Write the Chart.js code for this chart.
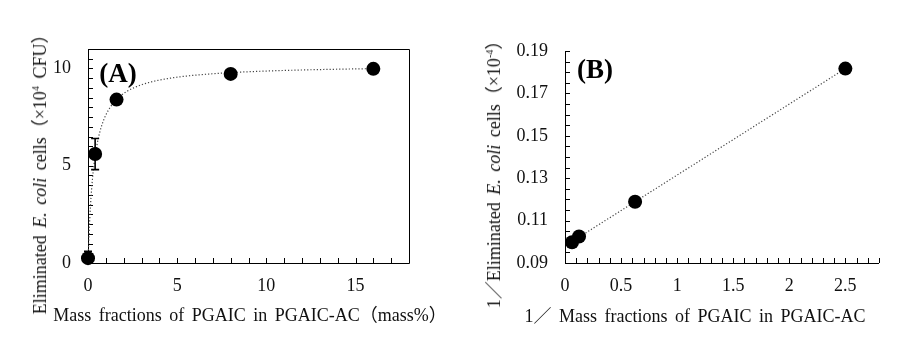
<!DOCTYPE html>
<html>
<head>
<meta charset="utf-8">
<script src="https://cdn.jsdelivr.net/npm/chart.js@4.4.1/dist/chart.umd.min.js"></script>
<style>
body{margin:0;background:#fff;}
#wrap{position:relative;width:905px;height:356px;background:#fff;font-family:"Liberation Serif","Noto Sans CJK JP",serif;color:#111;}
canvas{position:absolute;top:0;}
.t{position:absolute;white-space:nowrap;font-size:18px;word-spacing:3px;}
.rot{transform:translate(-50%,-50%) rotate(-90deg);}
.hz{transform:translate(-50%,-50%);}
.lab{position:absolute;font-weight:bold;font-size:27px;transform:translate(-50%,-50%);color:#000;}
sup{font-size:10px;vertical-align:7px;}
</style>
</head>
<body>
<div id="wrap">
<canvas id="chartA" width="452" height="356" style="left:0"></canvas>
<canvas id="chartB" width="453" height="356" style="left:452px"></canvas>
<div class="t rot" style="left:38px;top:170px">Eliminated <i>E. coli</i> cells（×10<sup>4</sup> CFU）</div>
<div class="t hz" style="left:250px;top:313px">Mass fractions of PGAIC in PGAIC-AC（mass%）</div>
<div class="t rot" style="left:492px;top:170px">1／Eliminated <i>E. coli</i> cells（×10<sup>-4</sup>）</div>
<div class="t hz" style="left:695px;top:314px">1／ Mass fractions of PGAIC in PGAIC-AC</div>
<div class="lab" style="left:118px;top:73px">(A)</div>
<div class="lab" style="left:595px;top:69px">(B)</div>
</div>
<script>
// panel A: eliminated cells vs mass fraction
var massA = [0, 0.4, 1.6, 8, 16];
var cellsA = [0.25, 5.6, 8.4, 9.72, 9.98];
var errA = [0.35, 0.8, 0, 0, 0];
var xTicksA = [0, 5, 10, 15];
var xLabelsA = ['0', '5', '10', '15'];
var yTicksA = [0, 5, 10];
var yLabelsA = ['0', '5', '10'];

// panel B: reciprocal plot
var invMassB = [0.0625, 0.125, 0.625, 2.5];
var invCellsB = [0.0998, 0.1025, 0.1189, 0.1817];
var xTicksB = [0, 0.5, 1, 1.5, 2, 2.5];
var xLabelsB = ['0', '0.5', '1', '1.5', '2', '2.5'];
var yTicksB = [0.09, 0.11, 0.13, 0.15, 0.17, 0.19];
var yLabelsB = ['0.09', '0.11', '0.13', '0.15', '0.17', '0.19'];

var tickFont = {family: 'Liberation Serif', size: 18};

function linFit(xs, ys){
	var n = xs.length, sx = 0, sy = 0, sxx = 0, sxy = 0;
	for (var i = 0; i < n; i++){
		sx += xs[i]; sy += ys[i]; sxx += xs[i]*xs[i]; sxy += xs[i]*ys[i];
	}
	var slope = (n*sxy - sx*sy)/(n*sxx - sx*sx);
	return {slope: slope, icpt: (sy - slope*sx)/n};
}
var fit = linFit(invMassB, invCellsB);

function toPts(xs, ys){
	return xs.map(function(x, i){ return {x: x, y: ys[i]}; });
}

// inward ticks, axis lines, trend line and error bars
function decoPlugin(o){
	return {
		id: 'deco',
		beforeDatasetsDraw: function(chart){
			var ctx = chart.ctx, a = chart.chartArea;
			var xs = chart.scales.x, ys = chart.scales.y;
			ctx.save();
			ctx.strokeStyle = '#000';
			ctx.lineWidth = 1;
			ctx.beginPath();
			if (o.box){
				ctx.rect(Math.round(a.left)+0.5, Math.round(a.top)+0.5, Math.round(a.right-a.left), Math.round(a.bottom-a.top));
			} else {
				ctx.moveTo(Math.round(a.left)+0.5, a.top);
				ctx.lineTo(Math.round(a.left)+0.5, Math.round(a.bottom)+0.5);
				ctx.lineTo(a.right, Math.round(a.bottom)+0.5);
			}
			var n = Math.round((xs.max - xs.min)/o.xStep);
			for (var i = 0; i <= n; i++){
				var px = Math.round(xs.getPixelForValue(xs.min + i*o.xStep))+0.5;
				ctx.moveTo(px, a.bottom);
				ctx.lineTo(px, a.bottom - 5);
			}
			n = Math.round((ys.max - ys.min)/o.yStep);
			for (var j = 0; j <= n; j++){
				var py = Math.round(ys.getPixelForValue(ys.min + j*o.yStep))+0.5;
				ctx.moveTo(a.left, py);
				ctx.lineTo(a.left + 5, py);
			}
			ctx.stroke();

			// dotted trend line
			ctx.beginPath();
			ctx.strokeStyle = '#444';
			ctx.lineWidth = 1.2;
			ctx.setLineDash([1.2, 2]);
			var steps = 400;
			for (var k = 0; k <= steps; k++){
				var xv = o.tMin + (o.tMax - o.tMin)*k/steps;
				var yv = o.trend(xv);
				var X = xs.getPixelForValue(xv), Y = ys.getPixelForValue(yv);
				if (k === 0) ctx.moveTo(X, Y); else ctx.lineTo(X, Y);
			}
			ctx.stroke();
			ctx.setLineDash([]);

			// error bars
			if (o.err){
				ctx.save();
				ctx.beginPath();
				ctx.rect(a.left - 10, a.top, a.right - a.left + 10, a.bottom - a.top);
				ctx.clip();
				ctx.strokeStyle = '#000';
				ctx.lineWidth = 1.6;
				ctx.beginPath();
				o.err.forEach(function(e, i){
					if (!e) return;
					var X = xs.getPixelForValue(o.xv[i]);
					var Y1 = ys.getPixelForValue(o.yv[i] + e), Y2 = ys.getPixelForValue(o.yv[i] - e);
					ctx.moveTo(X, Y1); ctx.lineTo(X, Y2);
					ctx.moveTo(X - 4, Y1); ctx.lineTo(X + 4, Y1);
					ctx.moveTo(X - 4, Y2); ctx.lineTo(X + 4, Y2);
				});
				ctx.stroke();
				ctx.restore();
			}
			ctx.restore();
		}
	};
}

function axisX(min, max, ticks, labels, pad){
	return {
		type: 'linear', min: min, max: max,
		grid: {display: false, drawTicks: false},
		border: {display: false},
		afterBuildTicks: function(s){ s.ticks = ticks.map(function(v){ return {value: v}; }); },
		afterFit: function(s){ s.height = 40; },
		ticks: {padding: pad, font: tickFont, color: '#111', maxRotation: 0,
			callback: function(v, i){ return labels[i]; }}
	};
}
function axisY(min, max, ticks, labels, w){
	return {
		type: 'linear', min: min, max: max,
		grid: {display: false, drawTicks: false},
		border: {display: false},
		afterBuildTicks: function(s){ s.ticks = ticks.map(function(v){ return {value: v}; }); },
		afterFit: function(s){ s.width = w; },
		ticks: {padding: 17, font: tickFont, color: '#111',
			callback: function(v, i){ return labels[i]; }}
	};
}

var chartA = new Chart(document.getElementById('chartA').getContext('2d'), {
	type: 'scatter',
	data: {
		datasets: [{
			data: toPts(massA, cellsA),
			backgroundColor: '#000',
			borderWidth: 0,
			pointRadius: 7,
			clip: false
		}]
	},
	options: {
		responsive: false,
		animation: false,
		devicePixelRatio: 1,
		layout: {padding: {left: 0, top: 49, right: 43, bottom: 53}},
		plugins: {legend: {display: false}, tooltip: {enabled: false}},
		scales: {
			x: axisX(0, 18, xTicksA, xLabelsA, 12),
			y: axisY(0, 11, yTicksA, yLabelsA, 88)
		}
	},
	plugins: [decoPlugin({
		box: true, xStep: 1, yStep: 0.5,
		tMin: 0, tMax: 16,
		trend: function(x){ return x/(fit.icpt*x + fit.slope); },
		err: errA, xv: massA, yv: cellsA
	})]
});

var chartB = new Chart(document.getElementById('chartB').getContext('2d'), {
	type: 'scatter',
	data: {
		datasets: [{
			data: toPts(invMassB, invCellsB),
			backgroundColor: '#000',
			borderWidth: 0,
			pointRadius: 7,
			clip: false
		}]
	},
	options: {
		responsive: false,
		animation: false,
		devicePixelRatio: 1,
		layout: {padding: {left: 0, top: 51, right: 26, bottom: 53}},
		plugins: {legend: {display: false}, tooltip: {enabled: false}},
		scales: {
			x: axisX(0, 2.8, xTicksB, xLabelsB, 12),
			y: axisY(0.09, 0.19, yTicksB, yLabelsB, 113)
		}
	},
	plugins: [decoPlugin({
		box: false, xStep: 0.1, yStep: 0.005,
		tMin: invMassB[0], tMax: invMassB[invMassB.length-1],
		trend: function(x){ return fit.icpt + fit.slope*x; }
	})]
});
</script>
</body>
</html>
